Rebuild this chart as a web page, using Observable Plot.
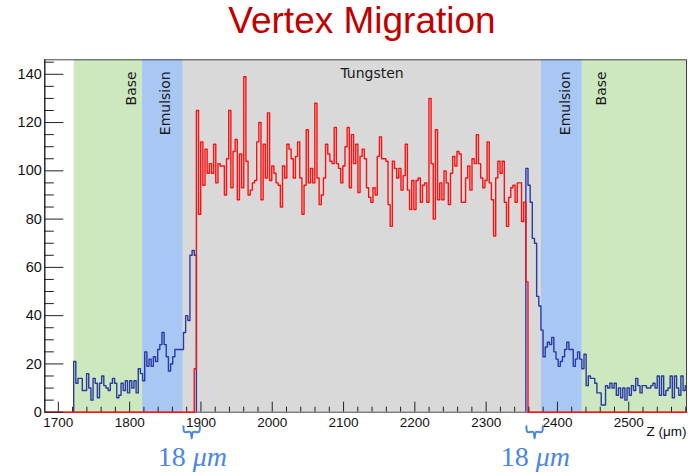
<!DOCTYPE html>
<html><head><meta charset="utf-8">
<script src="https://cdn.jsdelivr.net/npm/d3@7"></script>
<script src="https://cdn.jsdelivr.net/npm/@observablehq/plot@0.6"></script>
<style>
body{margin:0;background:#fff;width:688px;height:475px;overflow:hidden;}
#title{height:50px;font-family:"Liberation Sans",Arial,sans-serif;font-size:37px;line-height:42px;color:#c00000;text-align:center;padding-left:36px;width:652px;white-space:nowrap;}
</style></head><body>
<div id="title">Vertex Migration</div>
<div id="chart"></div>
<script>
// ---------- data ----------
const xDomain = [1681, 2581];
const yDomain = [0, 146];
const binWidth = 3.02;

const blueLeftStart = 1721.5;
const blueLeft = [21,12,14,14,9,9,16,10,5,14,12,6,12,15,11,10,9,12,14,12,6,7,12,9,13,8,13,10,13,8,18,16,
  13,25,19,22,19,23,21,26,28,33,28,23,17,20,23,26,26,26,26,
  33,40,38,65,67,65];

const redStart = 1890.6;
const red = [18,125,82,112,94,109,99,103,99,111,95,103,102,102,90,105,125,93,108,113,88,107,93,139,104,90,92,95,96,112,120,88,111,97,124,96,102,99,95,94,85,102,97,111,109,105,97,106,112,
  97,82,94,117,95,101,95,128,97,86,90,97,111,107,104,103,118,103,101,95,102,110,118,93,115,103,111,91,106,109,105,93,89,87,93,90,106,114,105,105,104,86,77,104,101,97,101,92,98,111,
  92,84,96,84,96,97,87,94,95,87,130,103,80,117,88,95,88,100,95,86,99,106,102,108,107,87,87,97,102,92,105,103,115,103,97,93,96,112,95,88,73,97,104,99,104,87,77,89,93,94,87,95,95,79,87,54];

const blueRightStart = 2355.7;
const blueRight = [101,94,87,72,70,48,44,34,23,27,29,28,31,25,22,19,21,23,26,29,26,26,19,22,25,22,18,24,11,15,
  14,14,12,8,8,3,3,11,10,12,10,12,7,10,6,10,5,10,7,11,9,14,11,8,11,11,10,10,11,12,10,15,7,15,7,9,10,15,6,15,10,7,15,9,11];

const bandNames  = ["Base", "Emulsion", "Tungsten", "Emulsion", "Base"];
const bandStarts = [1722.3, 1818.1, 1875.3, 2377.6, 2434.9];
const bandEnds   = [1818.1, 1875.3, 2377.6, 2434.9, 2581];
const bandColors = ["#cde8bf", "#a8c8f3", "#d9d9d9", "#a8c8f3", "#cde8bf"];
const bandLabelX = [1795.5, 1842.5, 2140, 2403, 2454];

const yTicks = [0, 20, 40, 60, 80, 100, 120, 140];
const xTicks = [1700, 1800, 1900, 2000, 2100, 2200, 2300, 2400, 2500];

const gapStarts = [1875.5, 2356.5];
const gapEnds   = [1898.5, 2379.5];
const gapLabelNum = "18";
const gapLabelUnit = "μm";

// ---------- helpers ----------
function steps(start, vals, w, openEnd) {
  const pts = [{x: start, y: 0}];
  vals.forEach((v, i) => { pts.push({x: start + i * w, y: v}, {x: start + (i + 1) * w, y: v}); });
  if (!openEnd) pts.push({x: start + vals.length * w, y: 0});
  return pts;
}
const redPts = [{x: xDomain[0], y: 0}, ...steps(redStart, red, binWidth, false), {x: xDomain[1], y: 0}];
const blueLeftPts = steps(blueLeftStart, blueLeft, binWidth, false);
const blueRightPts = steps(blueRightStart, blueRight, binWidth, true);

const bands = bandNames.map((n, i) => ({name: n, x1: bandStarts[i], x2: bandEnds[i], fill: bandColors[i], lx: bandLabelX[i]}));
const vertLabels = bands.filter(b => b.name !== "Tungsten");
const horizLabels = bands.filter(b => b.name === "Tungsten");

const gaps = gapStarts.map((s, i) => ({x1: s, x2: gapEnds[i], mid: (s + gapEnds[i]) / 2}));
const braceTop = -5.8, braceBar = -8.2, braceTip = -10.8;
const bracePts = gaps.flatMap((g, i) => [
  {g: i, x: g.x1, y: braceTop}, {g: i, x: g.x1 + 1.5, y: braceBar}, {g: i, x: g.mid - 2, y: braceBar},
  {g: i, x: g.mid, y: braceTip}, {g: i, x: g.mid + 2, y: braceBar}, {g: i, x: g.x2 - 1.5, y: braceBar},
  {g: i, x: g.x2, y: braceTop}
]);

// ---------- layout ----------
const W = 688, H = 425, mL = 44.3, mR = 2, mT = 9.3, mB = 63.3;
const plotW = W - mL - mR, plotH = H - mT - mB;
const yMinor = d3.range(0, 146, 5).filter(v => !yTicks.includes(v));
const xMinor = d3.range(1700, 2581, 20).filter(v => !xTicks.includes(v));
const sans = "Liberation Sans, Arial, sans-serif";
const annBlue = "#4a86e8";

const chart = Plot.plot({
  width: W, height: H,
  marginLeft: mL, marginRight: mR, marginTop: mT, marginBottom: mB,
  style: {fontFamily: sans, background: "white", color: "#111"},
  x: {domain: xDomain},
  y: {domain: yDomain},
  marks: [
    Plot.rect(bands, {x1: "x1", x2: "x2", y1: yDomain[0], y2: yDomain[1], fill: "fill"}),
    Plot.text(vertLabels, {x: "lx", frameAnchor: "top", dy: 11.5, rotate: -90, textAnchor: "end", text: "name",
      fontFamily: "DejaVu Sans", fontSize: 14, fill: "#1a1a1a"}),
    Plot.text(horizLabels, {x: "lx", frameAnchor: "top", dy: 8.5, lineAnchor: "top", text: "name",
      fontFamily: "DejaVu Sans", fontSize: 14, fill: "#1a1a1a"}),
    Plot.frame({stroke: "#444", strokeWidth: 1}),
    Plot.line(blueLeftPts, {x: "x", y: "y", stroke: "#2a3aa4", strokeWidth: 1.4, clip: true}),
    Plot.line(blueRightPts, {x: "x", y: "y", stroke: "#2a3aa4", strokeWidth: 1.4, clip: true}),
    Plot.line(redPts, {x: "x", y: "y", stroke: "#ff1010", strokeWidth: 1.4}),
    Plot.tickY(yTicks, {y: d => d, insetRight: plotW - 19, stroke: "#222"}),
    Plot.tickY(yMinor, {y: d => d, insetRight: plotW - 9.5, stroke: "#222"}),
    Plot.tickX(xTicks, {x: d => d, insetTop: plotH - 10, stroke: "#222"}),
    Plot.tickX(xMinor, {x: d => d, insetTop: plotH - 5, stroke: "#222"}),
    Plot.ruleX([xDomain[0]], {stroke: "#111"}),
    Plot.axisY(yTicks, {tickSize: 0, tickPadding: 3, fontSize: 14.5, label: null, tickFormat: d => String(d)}),
    Plot.axisX(xTicks, {tickSize: 0, tickPadding: 5, fontSize: 13.5, label: null, tickFormat: d => String(d)}),
    Plot.text(["Z (μm)"], {frameAnchor: "bottom-right", dy: 24, textAnchor: "end", fontSize: 13.5, fill: "#111"}),
    Plot.line(bracePts, {x: "x", y: "y", z: "g", stroke: annBlue, strokeWidth: 2, strokeLinejoin: "round", curve: "catmull-rom"}),
    Plot.text(gaps, {x: "mid", frameAnchor: "bottom", dy: 54, text: () => gapLabelNum, textAnchor: "end", dx: -6,
      fontFamily: "Liberation Serif", fontSize: 28, fill: annBlue}),
    Plot.text(gaps, {x: "mid", frameAnchor: "bottom", dy: 54, text: () => gapLabelUnit, textAnchor: "start", dx: 1,
      fontFamily: "Liberation Serif", fontStyle: "italic", fontSize: 28, fill: annBlue})
  ]
});
document.getElementById("chart").appendChild(chart);
</script></body></html>
